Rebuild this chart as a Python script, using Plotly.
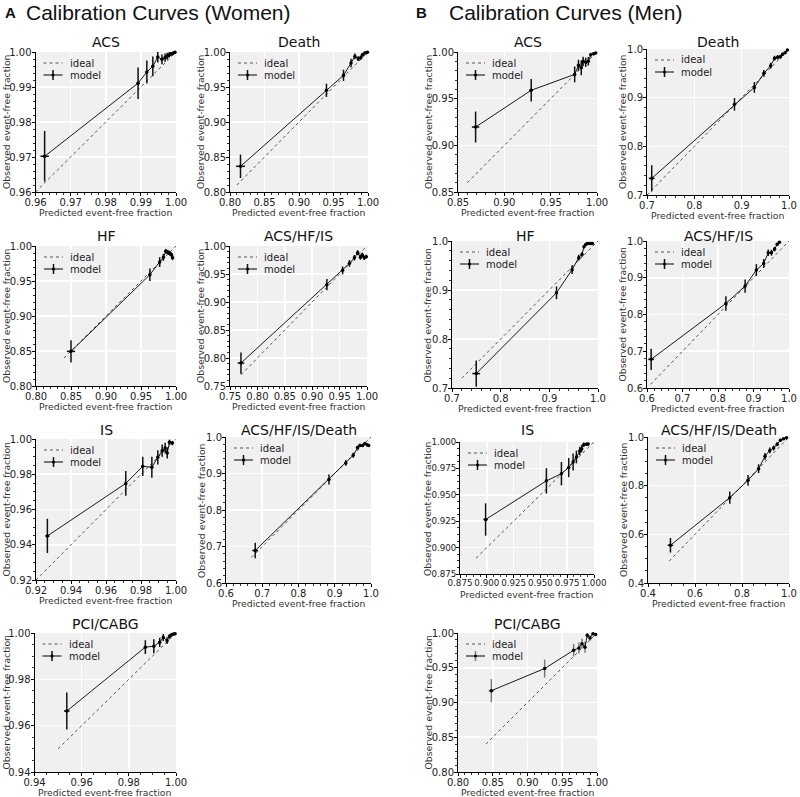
import plotly.graph_objects as go

# ---------------- data ----------------
# Women
w_acs_pred = [0.9626, 0.9892, 0.9917, 0.9934, 0.9948, 0.9960, 0.9969, 0.9975, 0.9981, 0.9986, 0.9990, 0.9994, 0.9997]
w_acs_obs = [0.9702, 0.9911, 0.9943, 0.9959, 0.9986, 0.9979, 0.9984, 0.9988, 0.9992, 0.9995, 0.9996, 0.9998, 0.9999]
w_acs_yerr = [0.0072, 0.0045, 0.0033, 0.0028, 0.0016, 0.0014, 0.0012, 0.0010, 0.0008, 0.0006, 0.0005, 0.0004, 0.0003]
w_acs_xerr = [0.0012, 0.0004, 0.0003, 0.0003, 0.0002, 0.0002, 0.0002, 0.0001, 0.0001, 0.0001, 0.0001, 0.0001, 0.0001]

w_death_pred = [0.8152, 0.9398, 0.9645, 0.9754, 0.9810, 0.9858, 0.9896, 0.9920, 0.9953, 0.9976, 0.9992]
w_death_obs = [0.8367, 0.9452, 0.9667, 0.9843, 0.9938, 0.9905, 0.9920, 0.9962, 0.9986, 0.9990, 0.9996]
w_death_yerr = [0.0167, 0.0095, 0.0080, 0.0060, 0.0040, 0.0035, 0.0030, 0.0025, 0.0015, 0.0010, 0.0006]
w_death_xerr = [0.0064, 0.0020, 0.0012, 0.0010, 0.0008, 0.0006, 0.0005, 0.0004, 0.0003, 0.0002, 0.0001]

w_hf_pred = [0.8500, 0.9627, 0.9767, 0.9820, 0.9853, 0.9877, 0.9896, 0.9916, 0.9935, 0.9950]
w_hf_obs = [0.8495, 0.9590, 0.9770, 0.9838, 0.9924, 0.9914, 0.9905, 0.9890, 0.9876, 0.9833]
w_hf_yerr = [0.0160, 0.0090, 0.0070, 0.0050, 0.0035, 0.0030, 0.0030, 0.0030, 0.0030, 0.0035]
w_hf_xerr = [0.0060, 0.0015, 0.0010, 0.0008, 0.0006, 0.0005, 0.0005, 0.0004, 0.0004, 0.0003]

w_ahi_pred = [0.7700, 0.9268, 0.9555, 0.9680, 0.9770, 0.9830, 0.9880, 0.9915, 0.9950, 0.9988]
w_ahi_obs = [0.7910, 0.9310, 0.9565, 0.9690, 0.9790, 0.9880, 0.9800, 0.9840, 0.9790, 0.9810]
w_ahi_yerr = [0.0190, 0.0100, 0.0070, 0.0060, 0.0050, 0.0045, 0.0045, 0.0040, 0.0040, 0.0035]
w_ahi_xerr = [0.0060, 0.0020, 0.0012, 0.0010, 0.0008, 0.0006, 0.0005, 0.0004, 0.0003, 0.0002]

w_is_pred = [0.9265, 0.9713, 0.9810, 0.9862, 0.9896, 0.9921, 0.9938, 0.9950, 0.9963, 0.9979]
w_is_obs = [0.9450, 0.9748, 0.9845, 0.9840, 0.9896, 0.9934, 0.9949, 0.9920, 0.9981, 0.9977]
w_is_yerr = [0.0097, 0.0070, 0.0055, 0.0060, 0.0040, 0.0035, 0.0030, 0.0030, 0.0015, 0.0012]
w_is_xerr = [0.0012, 0.0005, 0.0004, 0.0003, 0.0003, 0.0002, 0.0002, 0.0002, 0.0001, 0.0001]

w_ahid_pred = [0.6806, 0.8840, 0.9306, 0.9510, 0.9630, 0.9694, 0.9769, 0.9830, 0.9890, 0.9935]
w_ahid_obs = [0.6890, 0.8836, 0.9290, 0.9500, 0.9710, 0.9770, 0.9770, 0.9820, 0.9790, 0.9770]
w_ahid_yerr = [0.0210, 0.0140, 0.0080, 0.0070, 0.0050, 0.0045, 0.0045, 0.0040, 0.0040, 0.0035]
w_ahid_xerr = [0.0080, 0.0030, 0.0020, 0.0015, 0.0012, 0.0010, 0.0008, 0.0007, 0.0006, 0.0005]

w_pci_pred = [0.9537, 0.9870, 0.9906, 0.9931, 0.9946, 0.9962, 0.9973, 0.9982, 0.9990, 0.9996]
w_pci_obs = [0.9663, 0.9939, 0.9943, 0.9960, 0.9981, 0.9967, 0.9986, 0.9993, 0.9996, 0.9997]
w_pci_yerr = [0.0080, 0.0030, 0.0030, 0.0020, 0.0015, 0.0015, 0.0010, 0.0008, 0.0006, 0.0004]
w_pci_xerr = [0.0012, 0.0004, 0.0003, 0.0003, 0.0002, 0.0002, 0.0002, 0.0001, 0.0001, 0.0001]

# Men
m_acs_pred = [0.8690, 0.9290, 0.9759, 0.9800, 0.9830, 0.9850, 0.9878, 0.9906, 0.9932, 0.9964, 0.9986]
m_acs_obs = [0.9196, 0.9590, 0.9760, 0.9857, 0.9830, 0.9900, 0.9890, 0.9900, 0.9970, 0.9980, 0.9990]
m_acs_yerr = [0.0166, 0.0120, 0.0085, 0.0060, 0.0080, 0.0050, 0.0050, 0.0045, 0.0020, 0.0015, 0.0010]
m_acs_xerr = [0.0040, 0.0020, 0.0010, 0.0008, 0.0007, 0.0006, 0.0005, 0.0004, 0.0003, 0.0002, 0.0001]

m_death_pred = [0.7100, 0.8848, 0.9268, 0.9470, 0.9613, 0.9695, 0.9760, 0.9817, 0.9864, 0.9918, 0.9966]
m_death_obs = [0.7342, 0.8863, 0.9210, 0.9500, 0.9658, 0.9810, 0.9830, 0.9840, 0.9890, 0.9925, 0.9980]
m_death_yerr = [0.0270, 0.0130, 0.0110, 0.0070, 0.0060, 0.0050, 0.0045, 0.0040, 0.0035, 0.0025, 0.0015]
m_death_xerr = [0.0060, 0.0030, 0.0020, 0.0015, 0.0012, 0.0010, 0.0008, 0.0006, 0.0005, 0.0004, 0.0003]

m_hf_pred = [0.7498, 0.9147, 0.9468, 0.9604, 0.9672, 0.9713, 0.9747, 0.9780, 0.9815, 0.9850, 0.9884]
m_hf_obs = [0.7294, 0.8943, 0.9414, 0.9660, 0.9727, 0.9884, 0.9930, 0.9950, 0.9950, 0.9950, 0.9950]
m_hf_yerr = [0.0266, 0.0130, 0.0090, 0.0060, 0.0050, 0.0030, 0.0020, 0.0015, 0.0015, 0.0015, 0.0015]
m_hf_xerr = [0.0080, 0.0030, 0.0020, 0.0015, 0.0012, 0.0010, 0.0008, 0.0006, 0.0005, 0.0004, 0.0003]

m_ahi_pred = [0.6117, 0.8222, 0.8764, 0.9080, 0.9288, 0.9415, 0.9505, 0.9595, 0.9667, 0.9730]
m_ahi_obs = [0.6780, 0.8300, 0.8773, 0.9210, 0.9390, 0.9680, 0.9680, 0.9780, 0.9910, 0.9964]
m_ahi_yerr = [0.0290, 0.0200, 0.0180, 0.0160, 0.0120, 0.0090, 0.0080, 0.0060, 0.0040, 0.0025]
m_ahi_xerr = [0.0080, 0.0030, 0.0025, 0.0020, 0.0015, 0.0012, 0.0010, 0.0008, 0.0006, 0.0005]

m_is_pred = [0.8989, 0.9556, 0.9696, 0.9764, 0.9805, 0.9836, 0.9867, 0.9885, 0.9904, 0.9929, 0.9945]
m_is_obs = [0.9266, 0.9632, 0.9700, 0.9758, 0.9811, 0.9858, 0.9915, 0.9937, 0.9975, 0.9978, 0.9980]
m_is_yerr = [0.0153, 0.0120, 0.0110, 0.0090, 0.0080, 0.0060, 0.0040, 0.0035, 0.0020, 0.0015, 0.0012]
m_is_xerr = [0.0020, 0.0010, 0.0008, 0.0006, 0.0005, 0.0004, 0.0004, 0.0003, 0.0003, 0.0002, 0.0002]

m_ahid_pred = [0.4955, 0.7479, 0.8256, 0.8706, 0.8980, 0.9184, 0.9348, 0.9498, 0.9634, 0.9770, 0.9894]
m_ahid_obs = [0.5550, 0.7507, 0.8220, 0.8699, 0.9205, 0.9450, 0.9548, 0.9700, 0.9863, 0.9930, 0.9970]
m_ahid_yerr = [0.0300, 0.0250, 0.0220, 0.0180, 0.0140, 0.0120, 0.0100, 0.0080, 0.0060, 0.0040, 0.0025]
m_ahid_xerr = [0.0120, 0.0050, 0.0040, 0.0030, 0.0025, 0.0020, 0.0015, 0.0012, 0.0010, 0.0008, 0.0006]

m_pci_pred = [0.8480, 0.9247, 0.9664, 0.9740, 0.9784, 0.9827, 0.9860, 0.9899, 0.9942, 0.9980]
m_pci_obs = [0.9170, 0.9489, 0.9752, 0.9785, 0.9847, 0.9795, 0.9967, 0.9928, 0.9990, 0.9980]
m_pci_yerr = [0.0167, 0.0130, 0.0090, 0.0080, 0.0070, 0.0080, 0.0040, 0.0040, 0.0015, 0.0012]
m_pci_xerr = [0.0040, 0.0020, 0.0010, 0.0008, 0.0007, 0.0006, 0.0005, 0.0004, 0.0003, 0.0002]

# start of the ideal (diagonal) line for each panel
ideal_start = {
    "w_acs": 0.96, "w_death": 0.81, "w_hf": 0.84, "w_ahi": 0.77, "w_is": 0.92, "w_ahid": 0.67, "w_pci": 0.95,
    "m_acs": 0.86, "m_death": 0.70, "m_hf": 0.72, "m_ahi": 0.61, "m_is": 0.89, "m_ahid": 0.49, "m_pci": 0.84,
}

titles = ["ACS", "Death", "HF", "ACS/HF/IS", "IS", "ACS/HF/IS/Death", "PCI/CABG"]
legend_labels = ["ideal", "model"]
x_label = "Predicted event-free fraction"
y_label = "Observed event-free fraction"

# ---------------- panel layout config ----------------
W, H = 800, 797
panels = [
    # key, title, data, range, dtick, fmt, minor divisions, box (l, r, t, b) px
    ("w_acs", titles[0], (w_acs_pred, w_acs_obs, w_acs_xerr, w_acs_yerr), [0.96, 1.0], 0.01, ".2f", 5, (35.5, 176, 52, 192)),
    ("w_death", titles[1], (w_death_pred, w_death_obs, w_death_xerr, w_death_yerr), [0.80, 1.0], 0.05, ".2f", 5, (230, 368, 52, 192)),
    ("w_hf", titles[2], (w_hf_pred, w_hf_obs, w_hf_xerr, w_hf_yerr), [0.80, 1.0], 0.05, ".2f", 5, (36, 176, 246, 386)),
    ("w_ahi", titles[3], (w_ahi_pred, w_ahi_obs, w_ahi_xerr, w_ahi_yerr), [0.75, 1.0], 0.05, ".2f", 5, (230, 367, 246, 386)),
    ("w_is", titles[4], (w_is_pred, w_is_obs, w_is_xerr, w_is_yerr), [0.92, 1.0], 0.02, ".2f", 4, (36, 176, 439, 580)),
    ("w_ahid", titles[5], (w_ahid_pred, w_ahid_obs, w_ahid_xerr, w_ahid_yerr), [0.6, 1.0], 0.1, ".1f", 5, (226, 371, 437, 583)),
    ("w_pci", titles[6], (w_pci_pred, w_pci_obs, w_pci_xerr, w_pci_yerr), [0.94, 1.0], 0.02, ".2f", 4, (34.5, 176, 633, 772)),
    ("m_acs", titles[0], (m_acs_pred, m_acs_obs, m_acs_xerr, m_acs_yerr), [0.85, 1.0], 0.05, ".2f", 5, (458, 597, 52, 192)),
    ("m_death", titles[1], (m_death_pred, m_death_obs, m_death_xerr, m_death_yerr), [0.7, 1.0], 0.1, ".1f", 5, (647, 789, 49, 195)),
    ("m_hf", titles[2], (m_hf_pred, m_hf_obs, m_hf_xerr, m_hf_yerr), [0.7, 1.0], 0.1, ".1f", 5, (452, 598, 241, 388)),
    ("m_ahi", titles[3], (m_ahi_pred, m_ahi_obs, m_ahi_xerr, m_ahi_yerr), [0.6, 1.0], 0.1, ".1f", 5, (647, 789, 241, 388)),
    ("m_is", titles[4], (m_is_pred, m_is_obs, m_is_xerr, m_is_yerr), [0.875, 1.0], 0.025, ".3f", 4, (460, 594, 442, 574)),
    ("m_ahid", titles[5], (m_ahid_pred, m_ahid_obs, m_ahid_xerr, m_ahid_yerr), [0.4, 1.0], 0.2, ".1f", 4, (648, 789, 437, 583)),
    ("m_pci", titles[6], (m_pci_pred, m_pci_obs, m_pci_xerr, m_pci_yerr), [0.80, 1.0], 0.05, ".2f", 5, (458, 597, 633, 772)),
]
title_row_y = {52: 42, 49: 42, 246: 236, 241: 236, 439: 430, 437: 430, 442: 430, 633: 624}
ytitle_offset = {".2f": 30, ".1f": 25, ".3f": 33}

FONT = "DejaVu Sans"
TXT = "#222222"
fig = go.Figure()
annotations = []
shapes = []
layout = {}


def px_x(v):
    return v / W


def px_y(v):
    return 1 - v / H


def ann(text, x, y, size, xanchor="center", yanchor="middle", angle=0, family=FONT, color=TXT):
    return dict(text=text, x=px_x(x), y=px_y(y), xref="paper", yref="paper",
                xanchor=xanchor, yanchor=yanchor, textangle=angle, showarrow=False,
                font=dict(size=size, color=color, family=family))


for i, (key, title, (px, py, pxe, pye), rng, dt, fmt, ndiv, box) in enumerate(panels, start=1):
    l, r, t, b = box
    xa = "x" if i == 1 else f"x{i}"
    ya = "y" if i == 1 else f"y{i}"
    err_col = "#7a7a7a" if key == "m_pci" else "#111111"
    s = ideal_start[key]

    fig.add_trace(go.Scatter(
        x=[s, 1.0], y=[s, 1.0], mode="lines", name=legend_labels[0],
        line=dict(color="#555555", width=1, dash="dot"),
        xaxis=xa, yaxis=ya, showlegend=False, hoverinfo="skip"))
    fig.add_trace(go.Scatter(
        x=px, y=py, mode="lines+markers", name=legend_labels[1],
        line=dict(color="black", width=0.9),
        marker=dict(color="black", size=3.5),
        error_y=dict(type="data", array=pye, color=err_col, thickness=1.5, width=0),
        error_x=dict(type="data", array=pxe, color=err_col, thickness=1.5, width=0),
        cliponaxis=False, xaxis=xa, yaxis=ya, showlegend=False))

    common = dict(
        range=rng, dtick=dt, tick0=rng[0], tickformat=fmt, tickangle=0,
        showline=True, linecolor="black", linewidth=1, mirror=False,
        ticks="outside", ticklen=3, tickwidth=1, tickcolor="black",
        tickfont=dict(size=8.7 if fmt == ".3f" else 10, color=TXT, family=FONT),
        ticklabelstandoff=-2, ticklabeloverflow="allow",
        showgrid=True, gridcolor="white", gridwidth=1.6, zeroline=False,
        minor=dict(ticks="outside", ticklen=2, tickwidth=0.8, tickcolor="black",
                   dtick=dt / ndiv, tick0=rng[0], showgrid=False),
        automargin=False, fixedrange=True,
    )
    layout["xaxis" if i == 1 else f"xaxis{i}"] = dict(domain=[px_x(l), px_x(r)], anchor=ya, **common)
    layout["yaxis" if i == 1 else f"yaxis{i}"] = dict(domain=[px_y(b), px_y(t)], anchor=xa, **common)

    # axis titles
    annotations.append(ann(x_label, (l + r) / 2, b + 20.5, 9.3, color="#333333"))
    annotations.append(ann(y_label, max(l - ytitle_offset[fmt], 6), (t + b) / 2, 9.3, angle=-90, color="#333333"))
    # panel title
    annotations.append(ann(title, (l + r) / 2, title_row_y[t], 14, color="#111111"))

    # legend (drawn at upper-left inside the panel)
    y1, y2 = t + 11, t + 23
    shapes.append(dict(type="line", xref="paper", yref="paper",
                       x0=px_x(l + 8), x1=px_x(l + 27), y0=px_y(y1), y1=px_y(y1),
                       line=dict(color="#555555", width=1, dash="dot")))
    shapes.append(dict(type="line", xref="paper", yref="paper",
                       x0=px_x(l + 8), x1=px_x(l + 27), y0=px_y(y2), y1=px_y(y2),
                       line=dict(color="black", width=1)))
    shapes.append(dict(type="line", xref="paper", yref="paper",
                       x0=px_x(l + 17.5), x1=px_x(l + 17.5), y0=px_y(y2 - 5), y1=px_y(y2 + 5),
                       line=dict(color=err_col, width=1.5)))
    shapes.append(dict(type="circle", xref="paper", yref="paper",
                       x0=px_x(l + 16), x1=px_x(l + 19), y0=px_y(y2 - 1.5), y1=px_y(y2 + 1.5),
                       fillcolor="black", line=dict(color="black", width=0)))
    annotations.append(ann(legend_labels[0], l + 32, y1, 10, xanchor="left"))
    annotations.append(ann(legend_labels[1], l + 32, y2, 10, xanchor="left"))

# section headers
annotations += [
    ann("<b>A</b>", 3, 13, 15, xanchor="left", family="Liberation Sans", color="#111111"),
    ann("Calibration Curves (Women)", 24, 13, 21, xanchor="left", family="Liberation Sans", color="#111111"),
    ann("<b>B</b>", 414, 13, 15, xanchor="left", family="Liberation Sans", color="#111111"),
    ann("Calibration Curves (Men)", 447, 13, 21, xanchor="left", family="Liberation Sans", color="#111111"),
]

fig.update_layout(
    template="none",
    width=W, height=H, autosize=False,
    margin=dict(l=0, r=0, t=0, b=0, autoexpand=False),
    paper_bgcolor="white", plot_bgcolor="#f0f0f0",
    font=dict(family=FONT, color=TXT),
    showlegend=False,
    annotations=annotations,
    shapes=shapes,
    **layout,
)

fig.write_html(
    "out.html",
    config={"displayModeBar": False, "staticPlot": True},
    post_script="document.body.style.margin='0px';document.body.style.padding='0px';"
                "document.documentElement.style.overflow='hidden';",
)
